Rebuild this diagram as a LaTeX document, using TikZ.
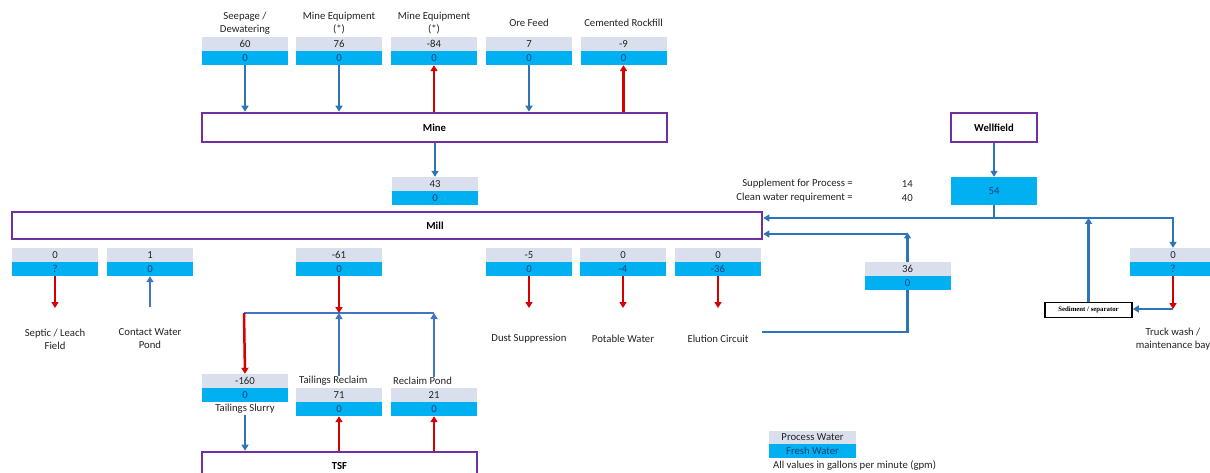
\documentclass[tikz,border=0pt]{standalone}
\usepackage{fontspec}
\setmainfont{Carlito}
\newfontfamily\sedfont{Liberation Serif}
\usetikzlibrary{arrows.meta}
\definecolor{procgray}{RGB}{217,223,237}
\definecolor{fresh}{RGB}{0,176,240}
\definecolor{freshtext}{RGB}{20,65,125}
\definecolor{boxpurple}{RGB}{112,48,160}
\definecolor{arrblue}{RGB}{46,117,182}
\definecolor{litblue}{RGB}{68,114,196}
\definecolor{arrred}{RGB}{215,0,0}
\definecolor{txt}{RGB}{35,35,35}
\tikzset{
  every node/.style={font=\fontsize{10.7}{13}\selectfont, text=txt, inner sep=0pt},
  gbox/.style={fill=procgray, minimum width=86pt, minimum height=14pt},
  bbox/.style={fill=fresh, minimum width=86pt, minimum height=14pt, text=freshtext},
  pbox/.style={draw=boxpurple, line width=2.6pt, fill=white, font=\fontsize{10.7}{13}\selectfont\bfseries, text=black},
  tip/.style={-{Triangle[length=6pt,width=7pt]}},
  barrow/.style={draw=arrblue, line width=2.5pt, tip},
  larrow/.style={draw=litblue, line width=2.5pt, tip},
  rarrow/.style={draw=arrred, line width=2.5pt, tip},
  bline/.style={draw=arrblue, line width=2.5pt},
  lline/.style={draw=litblue, line width=2.5pt},
  lbl/.style={align=center},
}
\newcommand\valpair[5]{%
  \node[gbox] (#1p) at (#2,#3+7) {#4};
  \node[bbox] (#1f) at (#2,#3+21) {#5};}
\begin{document}
\begin{tikzpicture}[x=1pt,y=-1pt]
\useasboundingbox[fill=white] (0,0) rectangle (1210,473);

% ---------- top row ----------
\node[lbl] (lseep) at (245,23) {Seepage /\\Dewatering};
\node[lbl] (lme1) at (339,23) {Mine Equipment\\(*)};
\node[lbl] (lme2) at (434,23) {Mine Equipment\\(*)};
\node[lbl] (lore) at (529,23) {Ore Feed};
\node[lbl] (lcem) at (623.5,23) {Cemented Rockfill};
\valpair{seep}{245}{37}{60}{0}
\valpair{meA}{339}{37}{76}{0}
\valpair{meB}{434}{37}{-84}{0}
\valpair{ore}{529}{37}{7}{0}
\valpair{cem}{623.5}{37}{-9}{0}

\node[pbox, minimum width=465pt, minimum height=29pt] (mine) at (434.5,127.5) {Mine};

\draw[barrow] (seepf.south) -- (seepf.south |- mine.north);
\draw[barrow] (meAf.south) -- (meAf.south |- mine.north);
\draw[rarrow] (meBf.south |- mine.north) -- (meBf.south);
\draw[barrow] (oref.south) -- (oref.south |- mine.north);
\draw[rarrow] (cemf.south |- mine.north) -- (cemf.south);

\valpair{mil}{435}{177}{43}{0}
\draw[barrow] (mine.south -| milp.north) -- (milp.north);

% ---------- mill ----------
\node[pbox, minimum width=750pt, minimum height=27pt] (mill) at (387,225.5) {};
\node[font=\fontsize{10.7}{13}\selectfont\bfseries, text=black] (milltxt) at (435,225.5) {Mill};

% ---------- wellfield ----------
\node[pbox, minimum width=86pt, minimum height=29pt] (well) at (994,127.5) {Wellfield};
\node[bbox, minimum height=28pt] (w54) at (994,191) {54};
\draw[barrow] (well.south) -- (w54.north);
\node[anchor=east] (sup1) at (853,184) {Supplement for Process =};
\node[anchor=east] (sup2) at (853,198) {Clean water requirement =};
\node[anchor=east] (sup1v) at (913,184) {14};
\node[anchor=east] (sup2v) at (913,198) {40};

\coordinate (j1) at (994,218);
\coordinate (tcorner) at (1173,309);
\draw[bline] (w54.south) -- (j1);
\draw[barrow] (j1) -- (j1 -| mill.east);

% ---------- bottom row under mill ----------
\valpair{sep}{55}{248}{0}{?}
\valpair{con}{150}{248}{1}{0}
\valpair{tal}{339}{248}{-61}{0}
\valpair{dus}{529}{248}{-5}{0}
\valpair{pot}{623}{248}{0}{-4}
\valpair{elu}{718}{248}{0}{-36}
\valpair{ret}{907.5}{262}{36}{0}
\valpair{trk}{1173}{248}{0}{?}

\node[lbl] (lsep) at (55,339) {Septic / Leach\\Field};
\node[lbl] (lcon) at (150,339) {Contact Water\\Pond};
\node[lbl] (ldus) at (529,339) {Dust Suppression};
\node[lbl] (lpot) at (623,339) {Potable Water};
\node[lbl] (lelu) at (718,339) {Elution Circuit};
\node[lbl] (ltrk) at (1173,339) {Truck wash /\\maintenance bay};

\coordinate (sepend) at (55,308);
\coordinate (conend) at (150,307);
\coordinate (dusend) at (529,308);
\coordinate (potend) at (623,308);
\coordinate (eluend) at (718,308);
\draw[rarrow] (sepf.south) -- (sepend);
\draw[larrow] (conend) -- (conf.south);
\draw[rarrow] (dusf.south) -- (dusend);
\draw[rarrow] (potf.south) -- (potend);
\draw[rarrow] (eluf.south) -- (eluend);

% elution return
\coordinate (elustart) at (762,332);
\coordinate (rc) at (907.5,234);
\draw[bline] (elustart) -| (retf.south);
\draw[barrow] (retp.north) -- ([yshift=1.5pt]rc);
\draw[barrow] (rc) -- (rc -| mill.east);

% truck wash / sediment
\node[draw=black, line width=1.6pt, fill=white, minimum width=87pt, minimum height=15pt,
      font=\sedfont\bfseries\fontsize{6.8}{8}\selectfont, text=black] (sed) at (1088.5,310) {Sediment / separator};
\draw[barrow] (j1) -| (trkp.north);
\draw[rarrow] (trkf.south) -- (tcorner);
\draw[barrow] (tcorner) -- (sed.east |- tcorner);
\draw[barrow] (sed.north) -- (sed.north |- j1);

% ---------- tailings ----------
\coordinate (jt) at (339,313);
\coordinate (jl) at (244,313);
\coordinate (jr) at (434,313);
\valpair{slu}{245}{374}{-160}{0}
\node[lbl] (lslu) at (245,409) {Tailings Slurry};
\node[anchor=west] (lrec) at (299,381) {Tailings Reclaim};
\node[anchor=west] (lpon) at (393,381) {Reclaim Pond};
\valpair{rec}{339}{388}{71}{0}
\valpair{pon}{434}{388}{21}{0}

\draw[lline] (jl) -- (jr);
\draw[rarrow] (talf.south) -- (jt);
\draw[rarrow] (jl) -- (slup.north);
\draw[larrow] (lrec.north -| jt) -- (jt);
\draw[larrow] (lpon.north -| jr) -- (jr);

\node[pbox, minimum width=275pt, minimum height=40pt] (tsf) at (339.5,472) {};
\node[font=\fontsize{10.7}{13}\selectfont\bfseries, text=black] (tsftxt) at (339.5,466) {TSF};
\draw[barrow] ([yshift=-1pt]lslu.south) -- (lslu.south |- tsf.north);
\draw[rarrow] (tsf.north -| recf.south) -- (recf.south);
\draw[rarrow] (tsf.north -| ponf.south) -- (ponf.south);

% ---------- legend ----------
\node[gbox, minimum width=87pt, minimum height=13pt] (legp) at (812.5,437.5) {Process Water};
\node[bbox, minimum width=87pt, minimum height=14pt] (legf) at (812.5,451) {Fresh Water};
\node[anchor=west] (legt) at (773,466) {All values in gallons per minute (gpm)};
\end{tikzpicture}
\end{document}
